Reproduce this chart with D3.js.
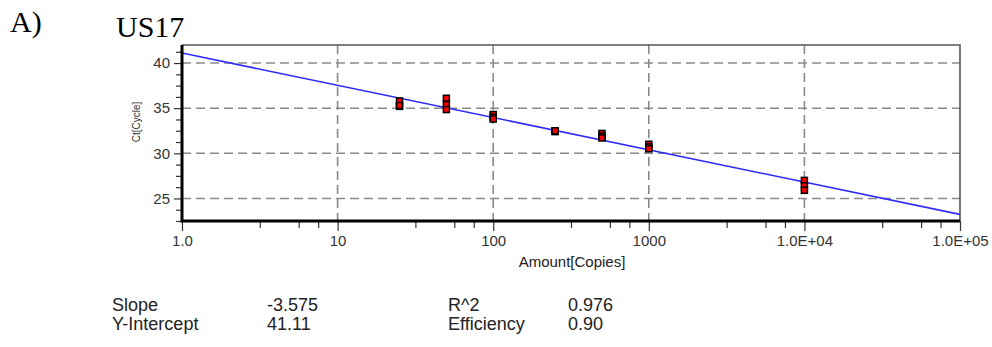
<!DOCTYPE html>
<html><head><meta charset="utf-8">
<script src="https://cdn.jsdelivr.net/npm/d3@7"></script>
<style>body{margin:0;background:#fff}svg{display:block}</style>
</head><body>
<svg id="c" width="992" height="347"></svg>
<script>
// ---- data ----
const amounts = [25, 50, 100, 250, 500, 1000, 10000];
const ctValues = [
  [35.8, 35.2, 35.3],
  [36.1, 35.4, 34.85],
  [34.3, 34.0, 33.8],
  [32.5, 32.4, 32.5],
  [32.2, 31.9, 31.7],
  [31.0, 30.7, 30.5],
  [27.0, 26.4, 25.9]
];
const fitX = [1, 100000];
const fitY = [41.11, 23.235];
const xTickValues = [1, 10, 100, 1000, 10000, 100000];
const xTickLabels = ["1.0", "10", "100", "1000", "1.0E+04", "1.0E+05"];
const yTickValues = [25, 30, 35, 40];
const statLabels = [["Slope", "-3.575"], ["Y-Intercept", "41.11"]];
const statLabels2 = [["R^2", "0.976"], ["Efficiency", "0.90"]];
const panelLabel = "A)";
const chartTitle = "US17";
const xTitle = "Amount[Copies]";
const yTitle = "Ct[Cycle]";

// ---- layout ----
const L = 182, R = 960, T = 45, B = 221;
const svg = d3.select("#c");
const x = d3.scaleLog().domain([1, 100000]).range([L, R]);
const y = d3.scaleLinear().domain([22.5, 42.0]).range([B, T]);

svg.append("text").attr("x", 10).attr("y", 32).attr("font-family", "Liberation Serif, Times New Roman, serif")
  .attr("font-size", 30).text(panelLabel);
svg.append("text").attr("x", 116).attr("y", 37).attr("font-family", "Liberation Serif, Times New Roman, serif")
  .attr("font-size", 30).text(chartTitle);

const grid = svg.append("g").attr("stroke", "#8a8a8a").attr("stroke-width", 1.6).attr("stroke-dasharray", "9,5");
grid.selectAll("line.h").data(yTickValues).join("line").attr("class", "h")
  .attr("x1", L).attr("x2", R).attr("y1", d => y(d)).attr("y2", d => y(d));
grid.selectAll("line.v").data(xTickValues.slice(1, -1)).join("line").attr("class", "v")
  .attr("y1", T).attr("y2", B).attr("x1", d => x(d)).attr("x2", d => x(d));

// frame top/right
svg.append("path").attr("d", `M${L},${T}H${R}V${B}`).attr("fill", "none").attr("stroke", "#555").attr("stroke-width", 1.6);

// fit line
const clip = svg.append("clipPath").attr("id", "pc").append("rect").attr("x", L).attr("y", T).attr("width", R - L).attr("height", B - T);
svg.append("path").datum(fitX.map((v, i) => [v, fitY[i]]))
  .attr("d", d3.line().x(d => x(d[0])).y(d => y(d[1])))
  .attr("stroke", "#2a2aff").attr("stroke-width", 1.6).attr("fill", "none").attr("clip-path", "url(#pc)");

// points
const pts = [];
amounts.forEach((a, i) => ctValues[i].forEach(v => pts.push([a, v])));
svg.append("g").selectAll("rect").data(pts).join("rect")
  .attr("x", d => x(d[0]) - 3).attr("y", d => y(d[1]) - 3).attr("width", 6).attr("height", 6)
  .attr("fill", "#ff0000").attr("stroke", "#000").attr("stroke-width", 1.5);

// x axis
const xMinor = [];
for (let d = 0; d < 5; d++) [0.5, 0.75, 0.875].forEach(f => xMinor.push(Math.pow(10, d + f)));
const xAxis = d3.axisBottom(x).tickValues(xTickValues).tickFormat((d, i) => xTickLabels[i]).tickSize(10).tickPadding(4);
const gx = svg.append("g").attr("transform", `translate(0,${B})`).call(xAxis);
gx.select(".domain").remove();
gx.selectAll("line").attr("stroke", "#333").attr("stroke-width", 1.2);
gx.selectAll("text").attr("font-family", "Liberation Sans, Arial, sans-serif").attr("font-size", 15).attr("fill", "#333");
const gxm = svg.append("g").attr("transform", `translate(0,${B})`).call(d3.axisBottom(x).tickValues(xMinor).tickFormat("").tickSize(7));
gxm.select(".domain").remove();
gxm.selectAll("line").attr("stroke", "#333").attr("stroke-width", 1.2);

// y axis
const yMinor = d3.range(22.5, 42.01, 1.25).filter(v => !yTickValues.includes(v));
const gy = svg.append("g").attr("transform", `translate(${L},0)`).call(d3.axisLeft(y).tickValues(yTickValues).tickSize(8).tickPadding(4));
gy.select(".domain").remove();
gy.selectAll("line").attr("stroke", "#333").attr("stroke-width", 1.2);
gy.selectAll("text").attr("font-family", "Liberation Sans, Arial, sans-serif").attr("font-size", 15).attr("fill", "#333");
const gym = svg.append("g").attr("transform", `translate(${L},0)`).call(d3.axisLeft(y).tickValues(yMinor).tickFormat("").tickSize(6));
gym.select(".domain").remove();
gym.selectAll("line").attr("stroke", "#333").attr("stroke-width", 1.2);

// left/bottom thick axes
svg.append("path").attr("d", `M${L},${T}V${B}H${R}`).attr("fill", "none").attr("stroke", "#000").attr("stroke-width", 3);

// axis titles
svg.append("text").attr("x", 572).attr("y", 267).attr("text-anchor", "middle")
  .attr("font-family", "Liberation Sans, Arial, sans-serif").attr("font-size", 15).attr("fill", "#222").text(xTitle);
svg.append("text").attr("transform", "translate(140,122) rotate(-90)").attr("text-anchor", "middle")
  .attr("font-family", "Liberation Sans, Arial, sans-serif").attr("font-size", 10).attr("fill", "#333").text(yTitle);

// stats
const sf = "Liberation Sans, Arial, sans-serif";
statLabels.forEach((s, i) => {
  svg.append("text").attr("x", 112).attr("y", 311 + i * 19).attr("font-family", sf).attr("font-size", 18).attr("fill", "#222").text(s[0]);
  svg.append("text").attr("x", 267).attr("y", 311 + i * 19).attr("font-family", sf).attr("font-size", 18).attr("fill", "#222").text(s[1]);
});
statLabels2.forEach((s, i) => {
  svg.append("text").attr("x", 448).attr("y", 311 + i * 19).attr("font-family", sf).attr("font-size", 18).attr("fill", "#222").text(s[0]);
  svg.append("text").attr("x", 568).attr("y", 311 + i * 19).attr("font-family", sf).attr("font-size", 18).attr("fill", "#222").text(s[1]);
});
</script>
</body></html>
